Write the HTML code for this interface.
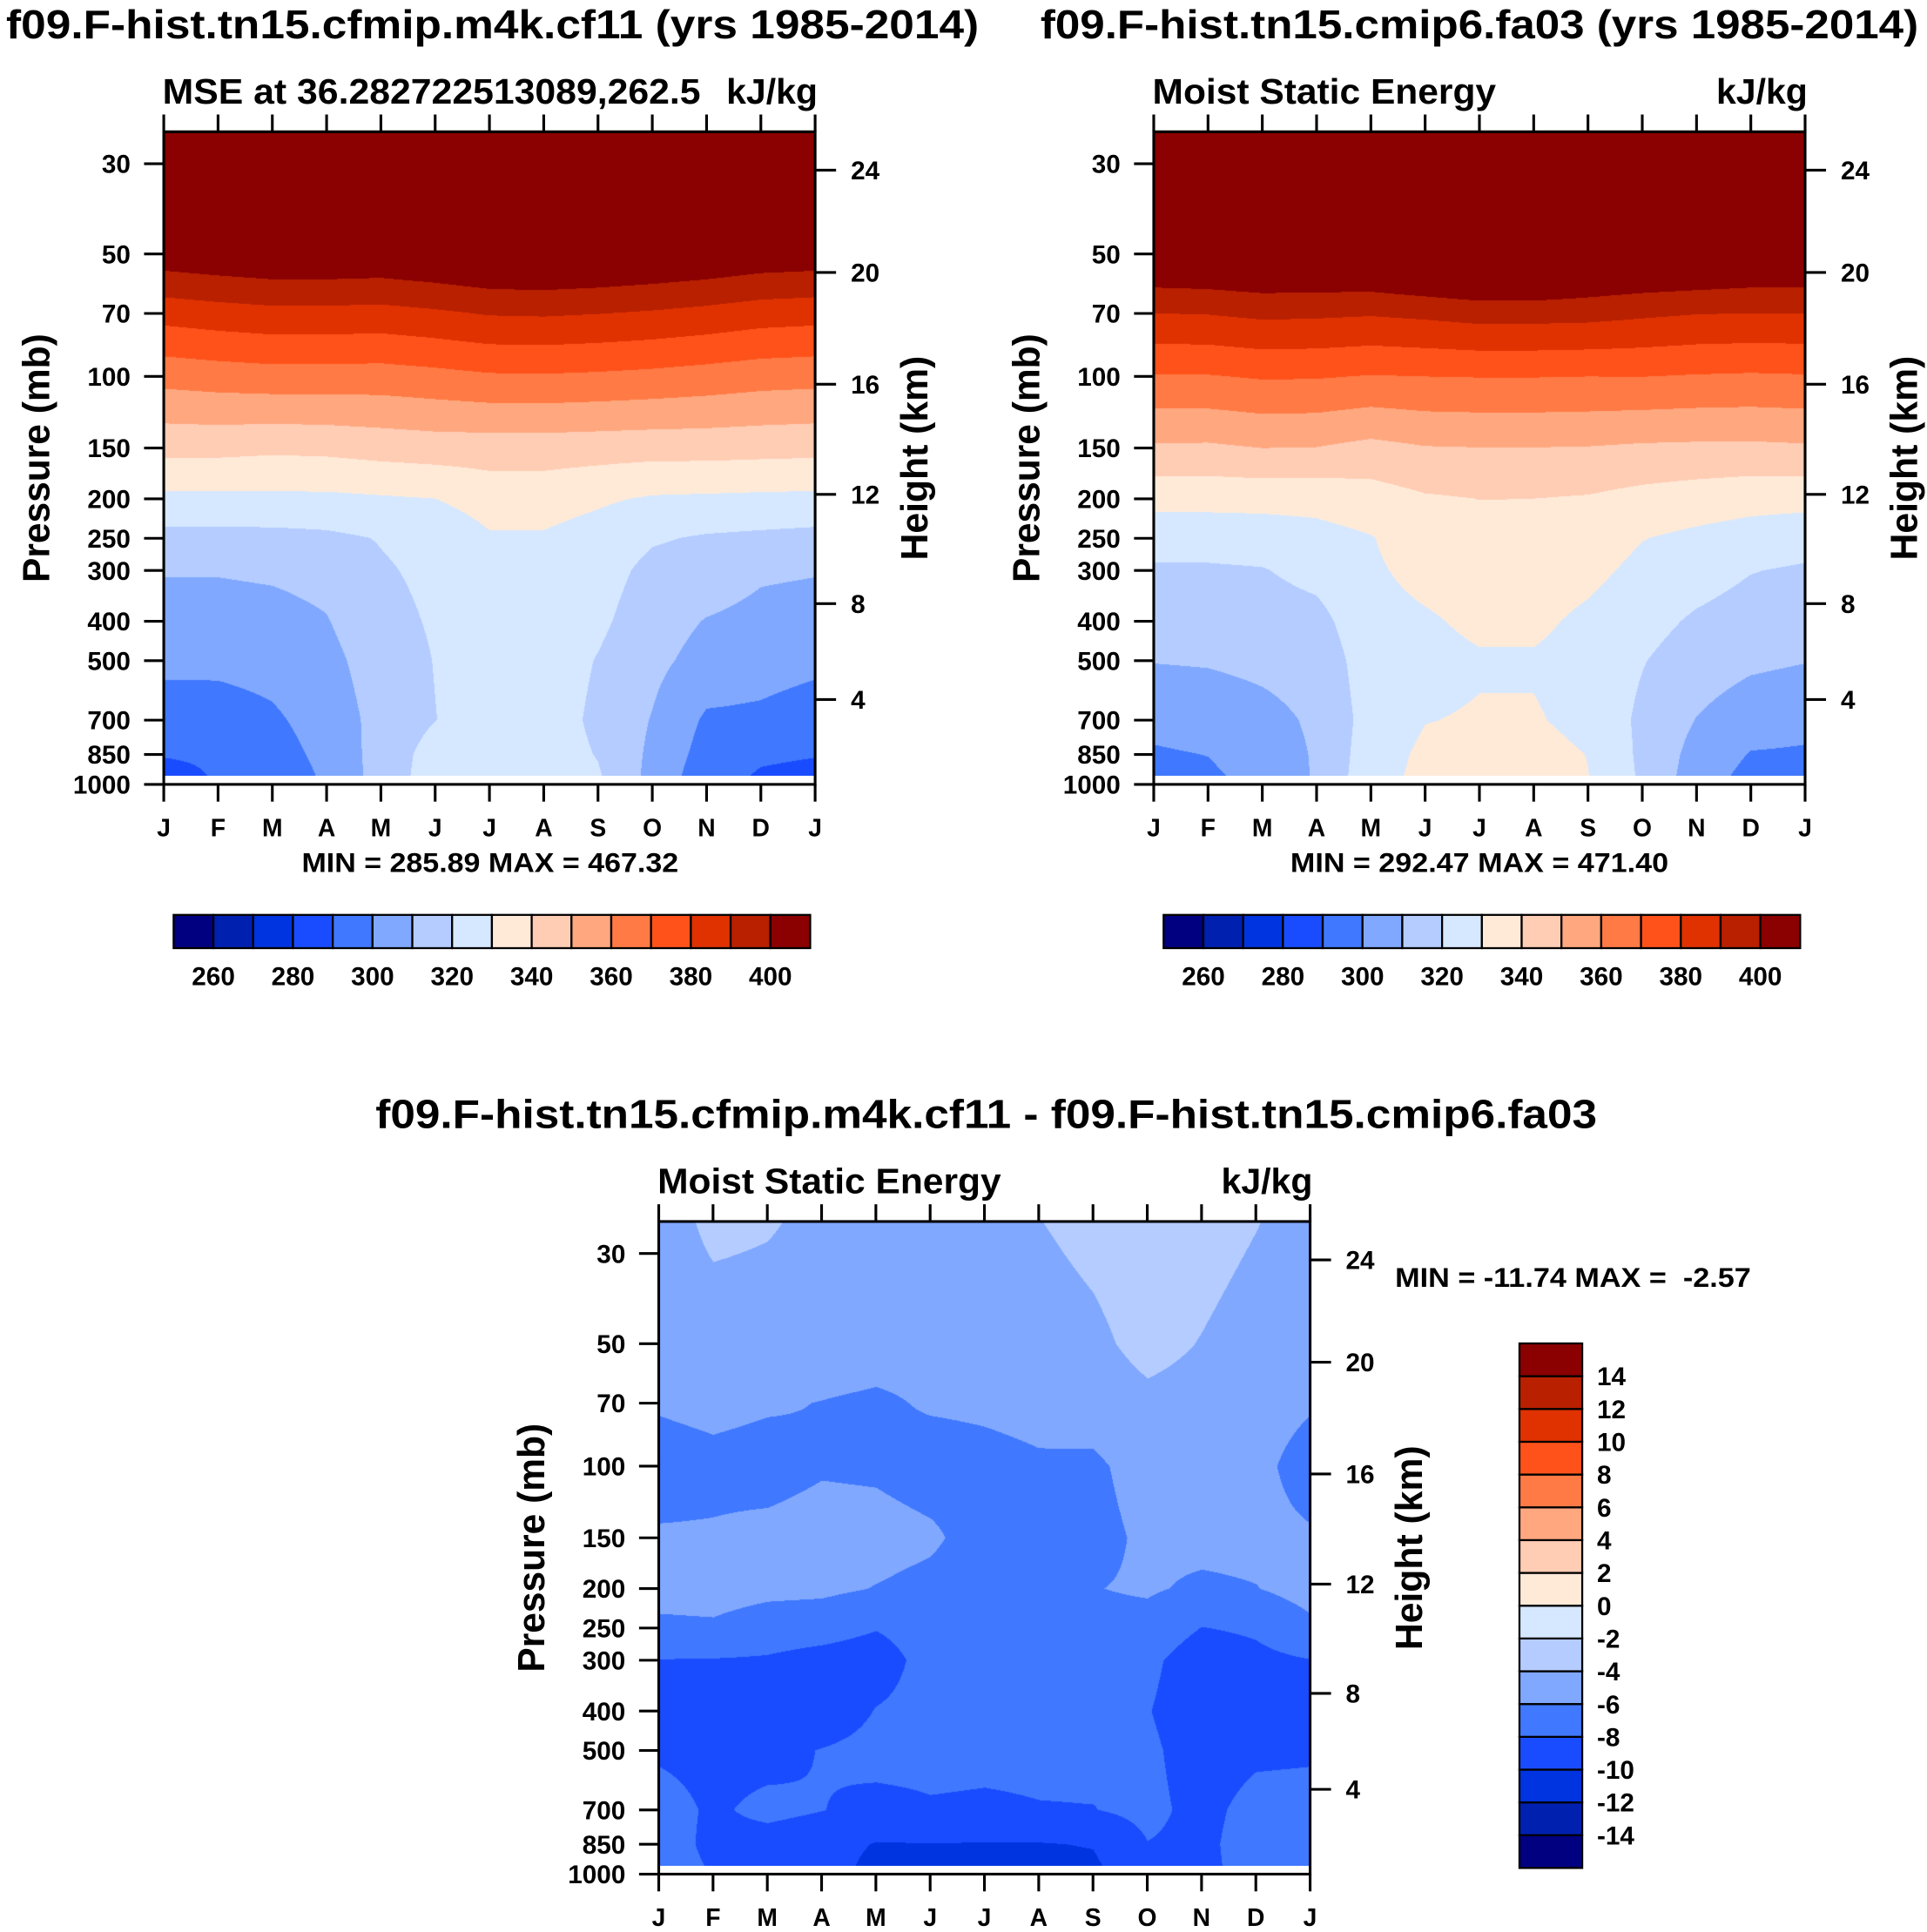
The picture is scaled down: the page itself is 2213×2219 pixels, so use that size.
<!DOCTYPE html>
<html><head><meta charset="utf-8"><title>MSE annual cycle</title>
<style>
html,body{margin:0;padding:0;background:#fff;}
#root{position:relative;width:2213px;height:2219px;background:#fff;overflow:hidden;}
canvas{position:absolute;}
svg{position:absolute;left:0;top:0;}
text{font-family:"Liberation Sans",Arial,sans-serif;font-weight:bold;fill:#000;}
</style></head>
<body>
<div id="root">
<svg id="ov" viewBox="0 0 1565 1569" width="2213" height="2219" preserveAspectRatio="none">
  <text x="5" y="31" font-size="33" textLength="790" lengthAdjust="spacingAndGlyphs">f09.F-hist.tn15.cfmip.m4k.cf11 (yrs 1985-2014)</text>
  <text x="845" y="31" font-size="33" textLength="713" lengthAdjust="spacingAndGlyphs">f09.F-hist.tn15.cmip6.fa03 (yrs 1985-2014)</text>
  <text x="305" y="916" font-size="33" textLength="992" lengthAdjust="spacingAndGlyphs">f09.F-hist.tn15.cfmip.m4k.cf11 - f09.F-hist.tn15.cmip6.fa03</text>

  <text x="132" y="84" font-size="29" textLength="437" lengthAdjust="spacingAndGlyphs">MSE at 36.282722513089,262.5</text>
  <text x="664" y="84" font-size="29" text-anchor="end">kJ/kg</text>
  <text x="936" y="84" font-size="29" textLength="279" lengthAdjust="spacingAndGlyphs">Moist Static Energy</text>
  <text x="1468" y="84" font-size="29" text-anchor="end">kJ/kg</text>
  <text x="534" y="969" font-size="29" textLength="279" lengthAdjust="spacingAndGlyphs">Moist Static Energy</text>
  <text x="1066" y="969" font-size="29" text-anchor="end">kJ/kg</text>

  <text transform="translate(40,372) rotate(-90)" font-size="31" text-anchor="middle" textLength="202" lengthAdjust="spacingAndGlyphs">Pressure (mb)</text>
  <text transform="translate(753,372) rotate(-90)" font-size="31" text-anchor="middle" textLength="166" lengthAdjust="spacingAndGlyphs">Height (km)</text>
  <text transform="translate(844,372) rotate(-90)" font-size="31" text-anchor="middle" textLength="202" lengthAdjust="spacingAndGlyphs">Pressure (mb)</text>
  <text transform="translate(1557,372) rotate(-90)" font-size="31" text-anchor="middle" textLength="166" lengthAdjust="spacingAndGlyphs">Height (km)</text>
  <text transform="translate(442,1257) rotate(-90)" font-size="31" text-anchor="middle" textLength="202" lengthAdjust="spacingAndGlyphs">Pressure (mb)</text>
  <text transform="translate(1155,1257) rotate(-90)" font-size="31" text-anchor="middle" textLength="166" lengthAdjust="spacingAndGlyphs">Height (km)</text>

  <text x="245" y="708" font-size="22" textLength="306" lengthAdjust="spacingAndGlyphs">MIN = 285.89 MAX = 467.32</text>
  <text x="1048" y="708" font-size="22" textLength="307" lengthAdjust="spacingAndGlyphs">MIN = 292.47 MAX = 471.40</text>
  <text x="1133" y="1045" font-size="22" textLength="289" lengthAdjust="spacingAndGlyphs" xml:space="preserve">MIN = -11.74 MAX =  -2.57</text>
  <g id="marks"></g>
</svg>
</div>
<script>
// ---------- data ----------
const months = ['J','F','M','A','M','J','J','A','S','O','N','D','J'];
const levels = [25,50,70,100,150,200,250,300,400,500,700,850,960];
const pressureTicks = [30,50,70,100,150,200,250,300,400,500,700,850,1000];
const heightTicks = [4,8,12,16,20,24];
const heightTickHPa = [623,362,195,104.5,55.5,31.1];
const mseLevels = [260,270,280,290,300,310,320,330,340,350,360,370,380,390,400];
const mseLabels = [260,280,300,320,340,360,380,400];
const diffLevels = [-14,-12,-10,-8,-6,-4,-2,0,2,4,6,8,10,12,14];
const diffLabels = [14,12,10,8,6,4,2,0,-2,-4,-6,-8,-10,-12,-14];

// rows = levels (25..960 hPa), columns = months J..J
const mseCf11 = [
 [460,460,460,460,460,460,460,460,460,460,460,460,460],
 [406.4,408.2,409.7,409.7,409.1,411,413.4,413.9,412.9,411.4,409.7,407.3,406.4],
 [384,385.8,387.2,387.2,386.7,388.5,390.8,391.2,390.3,389,387.2,384.9,384],
 [363.6,365,366,366,365.7,367.1,368.9,369.2,368.5,367.5,366,364.3,363.6],
 [343,343,342,342.5,344,345,345,345,344.5,344,344,343.5,343],
 [327.7,327.7,328,328,329,330,334,334,331.5,329,328.5,328,327.7],
 [317,317,317,318,320.5,323,329,329,326,321,319,318,317],
 [310.7,310.7,311.5,313,319,322,327.5,327.5,324,317.5,316,311.5,310.7],
 [305.7,305.7,306.6,309.5,317,321,326,326,322,314.5,309.5,307,305.7],
 [302.3,302.3,303.4,307,315,320.3,325.5,325.5,319.5,312.5,306.5,304,302.3],
 [295.2,295.5,298.5,304,313.5,319.8,325,325,318,309.5,298.5,298,295.2],
 [290.5,291,296,302.5,314,324,325,325,319.5,308,296,291.5,290.5],
 [287.5,290.6,294,301.5,314,325,325,325,321,307,294,289,287.5]
];
const mseCmip6 = [
 [460,460,460,460,460,460,460,460,460,460,460,460,460],
 [413.2,414,415.4,415.3,416,419.6,422.5,422.5,418,416,415.2,413.2,413.2],
 [390,390.5,392.2,391.8,391,392.3,394.1,394,393.5,391.8,390.4,390,390],
 [369.4,369.5,371,370.8,369.6,370.1,370.4,370.4,370.1,370.2,369.4,368.9,369.4],
 [348.75,348.5,350.1,349.8,347.2,349.5,349.9,349.9,349.6,348.6,348.2,348.1,348.75],
 [333.2,333.2,333.3,333.3,335.5,338.9,340.1,340,339.2,336.8,335,333.5,333.2],
 [324,324,324.7,326.7,329.5,335.6,337.5,337.5,335.5,330.3,327.9,325.8,324],
 [318.8,318.8,319.5,323,328.5,333,335.3,335.3,332.6,327.5,324.3,320.4,318.8],
 [314,314,315.5,317,326.5,328.8,332,332,328,323.5,318.6,315.6,314],
 [310.4,310.9,312.4,314,325,327,329,329,326.5,320.5,315.1,311.9,310.4],
 [302.6,304,307,311.5,324,329.7,330.8,330.8,327.5,318,309.7,304.3,302.6],
 [299,300.2,304.5,311,325.5,331.8,333,333,329.8,318,306.6,299.5,299],
 [297.5,298.5,303,311,326.5,332.3,333.5,333.5,330.2,318.5,305,297,297.5]
];
const mseDiff = [
 [-5,-3.5,-3.8,-4.5,-4.8,-5.2,-5.3,-4.05,-3.3,-2.6,-3,-3.9,-5],
 [-5,-5,-5,-5,-5.2,-5.4,-5.4,-5.1,-4.5,-3.3,-4.1,-5,-5],
 [-5.8,-5.5,-5.8,-6.05,-6.3,-5.8,-5.7,-5.5,-5.2,-4.5,-4.8,-5.2,-5.8],
 [-6.8,-6.5,-6.7,-6.2,-6.3,-6.8,-6.5,-6.2,-6.3,-5.3,-5.2,-5.5,-6.8],
 [-5.8,-5.8,-5.5,-5.2,-5.3,-5.7,-6.8,-6.8,-6.5,-5.7,-5.5,-5.5,-5.8],
 [-5.3,-5.2,-5.5,-5.6,-6.07,-6.5,-7,-7,-6.05,-5.8,-6.3,-6.05,-5.3],
 [-6.4,-6.3,-7,-7.2,-7.9,-7,-7.1,-7.1,-6.5,-6.6,-8.05,-7.7,-6.4],
 [-8.05,-8.1,-8.2,-8.7,-9,-7.2,-7.2,-7.2,-7,-7.5,-9.2,-8.5,-8.05],
 [-9,-9.2,-9.3,-9.5,-7.9,-7.3,-7.2,-7.3,-7.3,-7.9,-9.3,-9.3,-9],
 [-8.3,-8.6,-8.7,-7.9,-7.3,-7.4,-7.5,-7.5,-7.5,-7.6,-9,-8.4,-8.3],
 [-7.2,-8.3,-7.5,-7.95,-8.6,-8.2,-8.3,-8.1,-8.05,-7.5,-8.6,-7.3,-7.2],
 [-7,-8.5,-8.8,-9.2,-10.1,-10.05,-10.1,-10.1,-9.9,-8.05,-8.5,-7,-7],
 [-7,-8.2,-8.8,-9.2,-10.5,-10.6,-10.6,-10.6,-10.3,-8.5,-8.6,-7,-7]
];
const palette = ['#000080','#0020b0','#0034e0','#1a4cff','#4078ff','#80a8ff','#b4ccff','#d6e8ff',
                 '#ffead8','#ffccb4','#ffa880','#ff7a45','#ff521b','#e03200','#b82000','#8b0000'];

// ---------- geometry ----------
const SX = 2213/1565, SY = 2219/1569;
const PW = 529;
const NS = 'http://www.w3.org/2000/svg';
const marks = document.getElementById('marks');
const root = document.getElementById('root');

function pToY(p, yOff){ return yOff + 133 + 330.3*Math.log10(p/30); }
function yToP(y, yOff){ return 30*Math.pow(10,(y - yOff - 133)/330.3); }
function mToX(m, x0){ return x0 + m*PW/12; }
function hexRgb(h){ return [parseInt(h.substr(1,2),16),parseInt(h.substr(3,2),16),parseInt(h.substr(5,2),16)]; }
const rgbPal = palette.map(hexRgb);
function colorIndex(v, lv){ let k=0; for(let i=0;i<lv.length;i++){ if(v>=lv[i]) k=i+1; } return k; }

function mk(tag, attrs){ const el=document.createElementNS(NS,tag); for(const k in attrs) el.setAttribute(k,attrs[k]); marks.appendChild(el); return el; }

function drawField(x0, yOff, data, lv, name){
  const yTop = yOff + 107, yBot = pToY(levels[levels.length-1], yOff);
  const cv = document.createElement('canvas');
  
  
  const W = Math.round(PW*SX), H = Math.round((yBot-yTop)*SY);
  cv.width = W; cv.height = H;
  cv.style.left = (x0*SX)+'px'; cv.style.top = (yTop*SY)+'px';
  cv.style.width = W+'px'; cv.style.height = H+'px';
  root.insertBefore(cv, root.firstChild);
  const ctx = cv.getContext('2d');
  const img = ctx.createImageData(W,H);
  const logL = levels.map(Math.log);
  const row = new Array(13);
  for(let py=0; py<H; py++){
    const yd = yTop + (py+0.5)/SY;
    const lp = Math.log(yToP(yd, yOff));
    let i = 0;
    while(i < levels.length-2 && lp > logL[i+1]) i++;
    let t = (lp - logL[i])/(logL[i+1]-logL[i]);
    t = Math.max(0, Math.min(1, t));
    for(let j=0;j<13;j++) row[j] = data[i][j]*(1-t) + data[i+1][j]*t;
    for(let px=0; px<W; px++){
      const m = ((px+0.5)/SX)/PW*12;
      let j = Math.min(11, Math.floor(m)); const u = m - j;
      const v = row[j]*(1-u) + row[j+1]*u;
      const c = rgbPal[colorIndex(v, lv)];
      const o = (py*W+px)*4;
      img.data[o]=c[0]; img.data[o+1]=c[1]; img.data[o+2]=c[2]; img.data[o+3]=255;
    }
  }
  ctx.putImageData(img,0,0);
}

function drawAxes(x0, yOff, p){
  const top = yOff+107, bot = yOff+637;
  const fr = mk('rect',{x:x0,y:top,width:PW,height:bot-top,fill:'none',stroke:'#000','stroke-width':2.2});
  
  
  pressureTicks.forEach(function(pr){
    const y = pToY(pr, yOff);
    const yy = pr===1000 ? bot : y;
    const tk = mk('line',{x1:x0-16,y1:yy,x2:x0,y2:yy,stroke:'#000','stroke-width':2.2});
    
    
    const tx = mk('text',{x:x0-27,y:yy+7.5,'font-size':21,'text-anchor':'end'});
    tx.textContent = String(pr);
    
    
  });
  heightTicks.forEach(function(h, k){
    const y = pToY(heightTickHPa[k], yOff);
    const tk = mk('line',{x1:x0+PW,y1:y,x2:x0+PW+17,y2:y,stroke:'#000','stroke-width':2.2});
    
    
    const tx = mk('text',{x:x0+PW+29,y:y+7.5,'font-size':21});
    tx.textContent = String(h);
    
    
  });
  months.forEach(function(mo, i){
    const x = mToX(i, x0);
    const t1 = mk('line',{x1:x,y1:top-14,x2:x,y2:top,stroke:'#000','stroke-width':2.2});
    
    
    const t2 = mk('line',{x1:x,y1:bot,x2:x,y2:bot+14,stroke:'#000','stroke-width':2.2});
    
    
    const tx = mk('text',{x:x,y:yOff+679,'font-size':20,'text-anchor':'middle'});
    tx.textContent = mo;
    
    
  });
}

function hColorbar(x0, x1, y0, y1, p){
  const w = (x1-x0)/16;
  for(let k=0;k<16;k++){
    const r = mk('rect',{x:x0+k*w,y:y0,width:w,height:y1-y0,fill:palette[k],stroke:'#000','stroke-width':1.6});
    
    
  }
  mseLabels.forEach(function(L){
    const idx = mseLevels.indexOf(L)+1;
    const tx = mk('text',{x:x0+idx*w,y:800,'font-size':21,'text-anchor':'middle'});
    tx.textContent = String(L);
    
    
  });
}

function vColorbar(x0, x1, y0, y1, p){
  const h = (y1-y0)/16;
  for(let k=0;k<16;k++){
    const r = mk('rect',{x:x0,y:y1-(k+1)*h,width:x1-x0,height:h,fill:palette[k],stroke:'#000','stroke-width':1.6});
    
    
  }
  diffLabels.forEach(function(L){
    const idx = diffLevels.indexOf(L)+1;
    const tx = mk('text',{x:x1+12,y:y1-idx*h+7.5,'font-size':21});
    tx.textContent = String(L);
    
    
  });
}

drawField(133, 0, mseCf11, mseLevels, 'panel1-contour-field');
drawField(937, 0, mseCmip6, mseLevels, 'panel2-contour-field');
drawField(535, 885, mseDiff, diffLevels, 'panel3-contour-field');
drawAxes(133, 0, 'panel1');
drawAxes(937, 0, 'panel2');
drawAxes(535, 885, 'panel3');
hColorbar(141, 658, 743, 770, 'panel1');
hColorbar(945, 1462, 743, 770, 'panel2');
vColorbar(1234, 1285, 1091, 1517, 'panel3');
</script>
</body></html>
